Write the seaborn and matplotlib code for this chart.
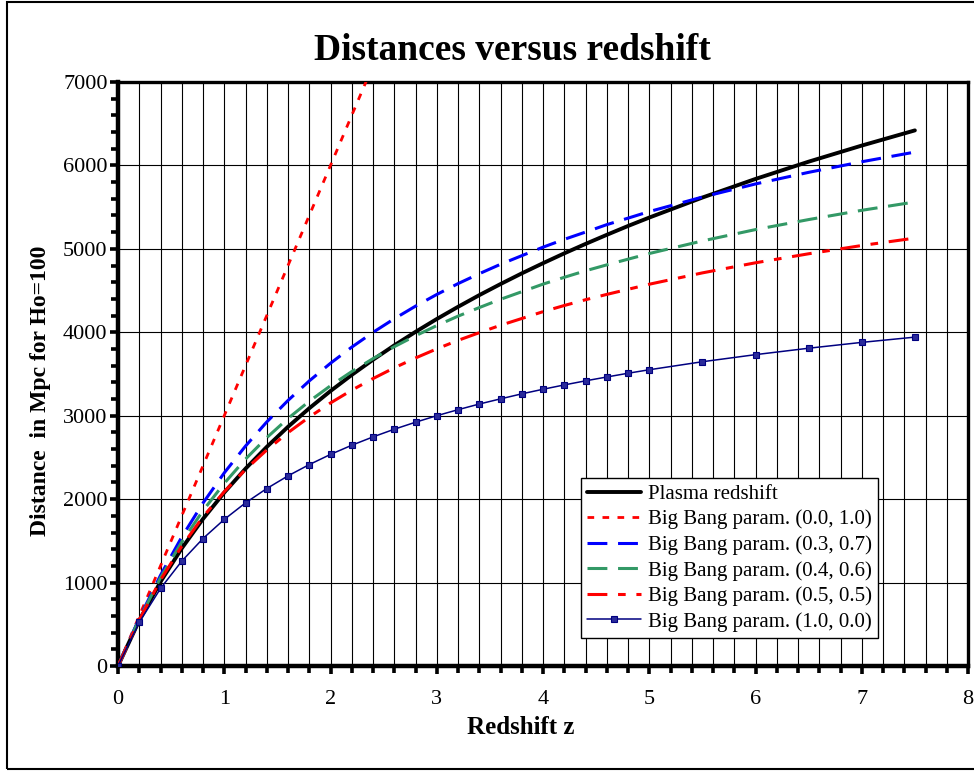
import matplotlib
matplotlib.use("Agg")
import matplotlib.pyplot as plt
import seaborn as sns
import pandas as pd
from matplotlib.ticker import MultipleLocator
from matplotlib.patches import Rectangle

# ---------------- data ----------------
z_main = [0, 0.2, 0.4, 0.6, 0.8, 1.0, 1.2, 1.4, 1.6, 1.8, 2.0, 2.2, 2.4, 2.6, 2.8,
          3.0, 3.2, 3.4, 3.6, 3.8, 4.0, 4.2, 4.4, 4.6, 4.8, 5.0, 5.5, 6.0, 6.5, 7.0, 7.5]

plasma = [0, 547, 1009, 1410, 1763, 2079, 2365, 2626, 2867, 3089, 3296, 3489, 3671,
          3843, 4005, 4159, 4305, 4445, 4578, 4706, 4828, 4946, 5059, 5168, 5274,
          5375, 5615, 5838, 6045, 6238, 6420]

z_lin = [0, 0.2, 0.4, 0.6, 0.8, 1.0, 1.2, 1.4, 1.6, 1.8, 2.0, 2.2, 2.4]
bb_00_10 = [0, 600, 1200, 1800, 2400, 3000, 3600, 4200, 4800, 5400, 6000, 6600, 7200]

bb_03_07 = [0, 572, 1087, 1546, 1953, 2315, 2636, 2925, 3183, 3417, 3629, 3822, 3999,
            4162, 4313, 4453, 4583, 4702, 4815, 4918, 5020, 5114, 5201, 5290, 5368,
            5447, 5621, 5778, 5917, 6044, 6160]

bb_04_06 = [0, 560, 1058, 1486, 1862, 2190, 2480, 2737, 2967, 3173, 3359, 3529, 3684,
            3827, 3958, 4080, 4193, 4296, 4395, 4486, 4577, 4659, 4737, 4808, 4876,
            4944, 5095, 5231, 5351, 5462, 5562]

bb_05_05 = [0, 552, 1031, 1436, 1787, 2089, 2355, 2589, 2797, 2984, 3153, 3306, 3445,
            3574, 3692, 3801, 3903, 3995, 4084, 4165, 4247, 4321, 4390, 4454, 4515,
            4576, 4712, 4833, 4941, 5040, 5129]

bb_10_00 = [0, 523, 929, 1257, 1528, 1757, 1955, 2127, 2279, 2414, 2536, 2646, 2746,
            2838, 2922, 3000, 3072, 3140, 3202, 3262, 3317, 3369, 3418, 3464, 3509,
            3551, 3647, 3732, 3809, 3879, 3942]

labels = ["Plasma redshift",
          "Big Bang param. (0.0, 1.0)",
          "Big Bang param. (0.3, 0.7)",
          "Big Bang param. (0.4, 0.6)",
          "Big Bang param. (0.5, 0.5)",
          "Big Bang param. (1.0, 0.0)"]

x_ticks = [0, 1, 2, 3, 4, 5, 6, 7, 8]
y_ticks = [0, 1000, 2000, 3000, 4000, 5000, 6000, 7000]

# ---------------- style ----------------
sns.set_style("white")
plt.rcParams["font.family"] = ["Liberation Serif", "DejaVu Serif"]
plt.rcParams["text.color"] = "black"
plt.rcParams["axes.labelcolor"] = "black"
plt.rcParams["xtick.color"] = "black"
plt.rcParams["ytick.color"] = "black"

fig = plt.figure(figsize=(9.74, 7.71), dpi=100)
ax = fig.add_axes([118 / 974, 105 / 771, 850 / 974, 584 / 771])

ax.set_xlim(0, 8)
ax.set_ylim(0, 7000)
ax.xaxis.set_major_locator(MultipleLocator(1))
ax.xaxis.set_minor_locator(MultipleLocator(0.2))
ax.yaxis.set_major_locator(MultipleLocator(1000))
ax.yaxis.set_minor_locator(MultipleLocator(200))
ax.grid(False)
ax.grid(which="both", axis="x", color="black", linewidth=0.8, zorder=0)
ax.grid(which="major", axis="y", color="black", linewidth=0.8, zorder=0)
ax.set_axisbelow(True)

specs = [
    (z_main, plasma, labels[0], dict(color="black", linewidth=2.8, linestyle="-")),
    (z_lin, bb_00_10, labels[1], dict(color="#ff0000", linewidth=2.0, dashes=(2.4, 3.0))),
    (z_main, bb_03_07, labels[2], dict(color="#0000ff", linewidth=2.2, dashes=(6.5, 3.5))),
    (z_main, bb_04_06, labels[3], dict(color="#339966", linewidth=2.2, dashes=(6.5, 3.5))),
    (z_main, bb_05_05, labels[4], dict(color="#ff0000", linewidth=2.2, dashes=(6.5, 3.5, 2.5, 3.5))),
    (z_main, bb_10_00, labels[5], dict(color="#000080", linewidth=1.1, linestyle="-",
                                       marker="s", markersize=4.5, markerfacecolor="#2a2a9a",
                                       markeredgecolor="#000080", markeredgewidth=0.8)),
]

for xs, ys, lab, kw in specs:
    df = pd.DataFrame({"z": xs, "d": ys})
    sns.lineplot(data=df, x="z", y="d", ax=ax, label=lab, sort=False,
                 estimator=None, errorbar=None, zorder=3, **kw)

for s in ["left", "bottom", "top", "right"]:
    ax.spines[s].set_visible(True)
    ax.spines[s].set_color("black")
ax.spines["left"].set_linewidth(3.2)
ax.spines["bottom"].set_linewidth(3.2)
ax.spines["top"].set_linewidth(2.4)
ax.spines["right"].set_linewidth(2.4)

ax.set_xticks(x_ticks)
ax.set_yticks(y_ticks)
ax.set_xticklabels([str(v) for v in x_ticks])
ax.set_yticklabels([str(v) for v in y_ticks])
ax.tick_params(which="major", direction="out", length=6, width=2.6, color="black",
               labelsize=16, bottom=True, left=True, labelcolor="black")
ax.tick_params(axis="x", which="major", pad=11)
ax.tick_params(axis="y", which="major", pad=1.5)
ax.tick_params(which="minor", direction="out", length=5, width=2.6, color="black",
               bottom=True, left=True)

ax.set_xlabel("Redshift z", fontsize=18, fontweight="bold")
ax.xaxis.set_label_coords((521 - 118) / 850, -(716 - 666) / 584)
ax.set_ylabel("Distance  in Mpc for Ho=100", fontsize=17, fontweight="bold")
ax.yaxis.set_label_coords(-(118 - 51) / 850, (666 - 391) / 584)
fig.text(512 / 974, 1 - 50 / 771, "Distances versus redshift", fontsize=27,
         fontweight="bold", ha="center", va="center")

leg = ax.legend(loc="lower right", bbox_to_anchor=((878 - 118) / 850, 0.048), fontsize=15,
                frameon=True, fancybox=False, edgecolor="black", framealpha=1,
                handlelength=2.6, handletextpad=0.3, borderpad=0.3,
                labelspacing=0.28, borderaxespad=0)
leg.get_frame().set_linewidth(1.0)

# outer frame (its right side lies beyond the canvas, as in the reference)
fig.patches.append(Rectangle((7 / 974, 2 / 771), 975 / 974, 767 / 771,
                             transform=fig.transFigure, fill=False,
                             edgecolor="black", linewidth=1.5, clip_on=False))

fig.savefig("out.png", dpi=100)
